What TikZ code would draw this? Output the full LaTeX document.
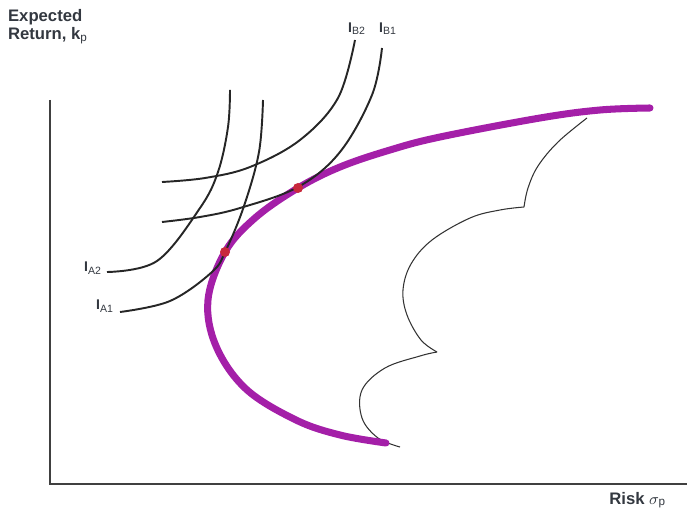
\documentclass[tikz,border=0pt]{standalone}
\usepackage{fontspec}
\setmainfont{Liberation Sans}
\definecolor{frontier}{HTML}{A41FA8}
\definecolor{optimum}{HTML}{C8283C}
\definecolor{labelgray}{HTML}{333840}
\tikzset{
	axisline/.style={line width=1.1pt, draw=black!75},
	indiff/.style={line width=1.1pt, draw=black!85},
	feasible/.style={line width=0.6pt, draw=black!80},
	lbl/.style={text=labelgray, font=\bfseries\fontsize{8}{9}\selectfont, inner sep=1pt},
	axislbl/.style={lbl, font=\bfseries\fontsize{9.5}{10.5}\selectfont},
}
\begin{document}
\begin{tikzpicture}[x=0.02cm, y=-0.02cm]
	\useasboundingbox (0, 0) rectangle (687, 520);

	%% axes
	\coordinate (orig) at (50, 484);
	\coordinate (ytop) at (50, 100);
	\coordinate (xend) at (687, 484);
	\draw[axisline] (ytop) -- (orig) -- (xend);

	%% axis labels
	\node[axislbl, anchor=north west, align=left] (ylab) at (6, 7) {Expected\\Return, k$_\mathrm{p}$};
	\node[axislbl, anchor=north east] (xlab) at (668, 490) {Risk $\sigma_\mathrm{p}$};

	%% feasible set boundary
	\draw[feasible] plot[smooth, tension=0.6] coordinates {(587, 118) (558, 142) (538, 166) (528, 188) (524, 207)};
	\draw[feasible] plot[smooth, tension=0.6] coordinates {(524, 207) (500, 210) (470, 218) (432, 240) (411, 264) (403, 290) (407, 315) (421, 340) (437, 352)};
	\draw[feasible] plot[smooth, tension=0.6] coordinates {(437, 352) (420, 356) (385, 368) (362, 390) (362, 418) (378, 438) (400, 447)};

	%% efficient frontier
	\draw[frontier, line width=4pt, line cap=round] plot[smooth, tension=0.6] coordinates {(650, 108) (600, 110) (540, 118) (440, 137) (390, 150) (340, 167) (298, 188) (255, 218) (225, 252) (208, 300) (216, 346) (246, 389) (296, 420) (340, 435) (386, 443)};

	%% indifference curves, investor A
	\draw[indiff] plot[smooth, tension=0.6] coordinates {(107, 272) (157, 261) (200, 208) (218, 172) (228, 127) (230, 90)};
	\draw[indiff] plot[smooth, tension=0.6] coordinates {(120, 312) (170, 301) (212, 272) (226, 250) (244, 206) (259, 152) (263, 100)};

	%% indifference curves, investor B
	\draw[indiff] plot[smooth, tension=0.6] coordinates {(162, 182) (205, 178) (250, 167) (300, 140) (338, 98) (355, 40)};
	\draw[indiff] plot[smooth, tension=0.6] coordinates {(162, 222) (200, 217) (240, 208) (298, 187) (340, 152) (372, 95) (382, 48)};

	%% curve labels
	\node[lbl, anchor=east] (ia2) at (104, 268) {I$_\mathrm{A2}$};
	\node[lbl, anchor=east] (ia1) at (116, 306) {I$_\mathrm{A1}$};
	\node[lbl, anchor=south] (ib2) at (357, 37) {I$_\mathrm{B2}$};
	\node[lbl, anchor=south] (ib1) at (388, 37) {I$_\mathrm{B1}$};

	%% optimal portfolios
	\fill[optimum] (225, 252) circle (5);
	\fill[optimum] (298, 188) circle (5);
\end{tikzpicture}
\end{document}
